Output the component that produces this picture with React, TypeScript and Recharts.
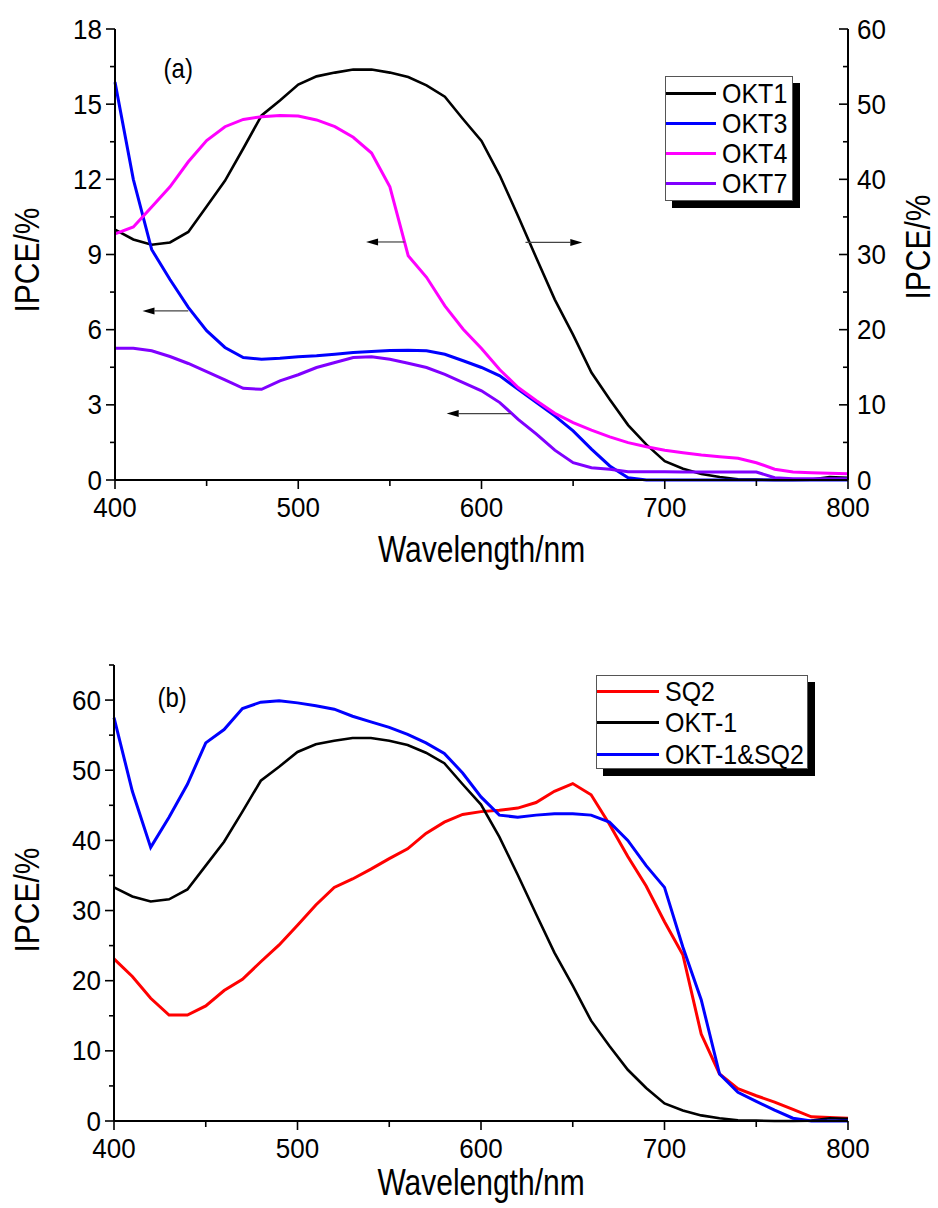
import React from 'react';
import { LineChart, Line, XAxis, YAxis, Legend, ReferenceLine, ReferenceDot } from 'recharts';

const FONT = '"Liberation Sans", Arial, Helvetica, sans-serif';

// wavelength grid (nm)
const WAVELENGTH = [
  400, 410, 420, 430, 440, 450, 460, 470, 480, 490,
  500, 510, 520, 530, 540, 550, 560, 570, 580, 590,
  600, 610, 620, 630, 640, 650, 660, 670, 680, 690,
  700, 710, 720, 730, 740, 750, 760, 770, 780, 790, 800,
];

// IPCE % — OKT1 is read on the right axis in (a), and is the OKT-1 curve in (b)
const OKT1 = [
  33.3, 32.0, 31.3, 31.6, 33.0, 36.4, 39.8, 44.1, 48.5, 50.5,
  52.6, 53.7, 54.2, 54.6, 54.6, 54.2, 53.6, 52.5, 51.0, 48.0,
  45.1, 40.5, 35.1, 29.5, 24.0, 19.3, 14.3, 10.7, 7.3, 4.7,
  2.5, 1.5, 0.8, 0.4, 0.1, 0.05, 0, 0, 0.05, 0.4, 0.3,
];
const OKT3 = [
  15.88, 12.0, 9.2, 8.0, 6.89, 5.96, 5.29, 4.89, 4.82, 4.86,
  4.92, 4.96, 5.02, 5.09, 5.13, 5.17, 5.18, 5.16, 5.02, 4.76,
  4.49, 4.16, 3.62, 3.09, 2.56, 1.96, 1.23, 0.56, 0.09, 0,
  0, 0, 0, 0, 0, 0, 0, 0, 0, 0, 0,
];
const OKT4 = [
  9.82, 10.1, 10.9, 11.7, 12.7, 13.55, 14.1, 14.39, 14.5, 14.55,
  14.53, 14.37, 14.1, 13.68, 13.05, 11.7, 8.95, 8.09, 6.95, 6.02,
  5.25, 4.4, 3.69, 3.16, 2.66, 2.29, 1.99, 1.72, 1.49, 1.33,
  1.19, 1.09, 1.0, 0.93, 0.87, 0.69, 0.43, 0.32, 0.29, 0.27, 0.25,
];
const OKT7 = [
  5.26, 5.26, 5.16, 4.93, 4.65, 4.33, 4.0, 3.66, 3.62, 3.96,
  4.2, 4.49, 4.69, 4.89, 4.92, 4.82, 4.66, 4.49, 4.22, 3.89,
  3.56, 3.09, 2.42, 1.83, 1.19, 0.69, 0.49, 0.43, 0.33, 0.33,
  0.33, 0.32, 0.32, 0.32, 0.32, 0.32, 0.09, 0.05, 0.05, 0.05, 0.05,
];
const SQ2 = [
  23.1, 20.6, 17.5, 15.1, 15.1, 16.4, 18.6, 20.2, 22.7, 25.1,
  27.9, 30.8, 33.3, 34.5, 35.9, 37.4, 38.8, 41.0, 42.6, 43.7,
  44.1, 44.3, 44.6, 45.4, 47.0, 48.1, 46.5, 42.3, 37.7, 33.5,
  28.4, 23.7, 12.4, 6.7, 4.6, 3.6, 2.7, 1.65, 0.6, 0.5, 0.4,
];
const OKT1_SQ2 = [
  57.5, 47.0, 39.0, 43.3, 48.0, 53.9, 55.8, 58.8, 59.7, 59.9,
  59.6, 59.2, 58.7, 57.7, 56.9, 56.1, 55.1, 53.9, 52.4, 49.6,
  46.2, 43.6, 43.3, 43.6, 43.8, 43.8, 43.6, 42.6, 40.0, 36.4,
  33.3, 24.8, 17.3, 6.7, 4.1, 2.8, 1.55, 0.4, 0, 0, 0,
];

const LEGEND_A = ['OKT1', 'OKT3', 'OKT4', 'OKT7'];
const LEGEND_B = ['SQ2', 'OKT-1', 'OKT-1&SQ2'];

const X_TICKS = [400, 450, 500, 550, 600, 650, 700, 750, 800];
const TOP_TICKS_A = [400, 450, 500, 550, 600, 650, 700, 750, 800];
const TOP_TICKS_B = [400, 440, 480, 520, 560, 600, 640, 680, 720, 760, 800];
const LEFT_TICKS_A = [0, 1.5, 3, 4.5, 6, 7.5, 9, 10.5, 12, 13.5, 15, 16.5, 18];
const RIGHT_TICKS_A = [0, 5, 10, 15, 20, 25, 30, 35, 40, 45, 50, 55, 60];
const LEFT_TICKS_B = [0, 5, 10, 15, 20, 25, 30, 35, 40, 45, 50, 55, 60, 65];
const RIGHT_TICKS_B = [0, 1, 2, 3, 4, 5, 6, 7, 8, 9, 10];

// arrows in (a): [tail wl, head wl, left-axis value]
const ARROWS_A = [
  [558, 537, 9.5],
  [440, 415, 6.75],
  [616, 581, 2.65],
  [624, 655, 9.48],
];

const rowsA = WAVELENGTH.map((wl, i) => ({ wl, okt1: OKT1[i], okt3: OKT3[i], okt4: OKT4[i], okt7: OKT7[i] }));
const rowsB = WAVELENGTH.map((wl, i) => ({ wl, sq2: SQ2[i], okt1: OKT1[i], mix: OKT1_SQ2[i] }));

function STxt({ x, y, k = 1, size = 26, anchor = 'middle', rotate = 0, children }: any) {
  const t = `translate(${x} ${y})${rotate ? ` rotate(${rotate})` : ''} scale(1 ${k})`;
  return (
    <text transform={t} textAnchor={anchor} fontSize={size} fontFamily={FONT} fill="#000">
      {children}
    </text>
  );
}

const isMajor = (v: number, step: number) => Math.abs(v / step - Math.round(v / step)) < 1e-6;

function makeTick(side: string, step: number, major: number, minor: number, inward = false, labels = true) {
  return (p: any) => {
    const x = Number(p.x);
    const y = Number(p.y);
    const v = Number(p.payload?.value);
    const big = isMajor(v, step);
    const len = (big ? major : minor) * (inward ? -1 : 1);
    let x2 = x;
    let y2 = y;
    if (side === 'left') x2 = x - len;
    else if (side === 'right') x2 = x + len;
    else if (side === 'bottom') y2 = y + len;
    else y2 = y - len;
    let label = null;
    if (labels && big) {
      if (side === 'left') label = <STxt x={x - 13} y={y + 9.5} anchor="end" k={1.05}>{v}</STxt>;
      if (side === 'right') label = <STxt x={x + 9} y={y + 9.5} anchor="start" k={1.05}>{v}</STxt>;
      if (side === 'bottom') label = <STxt x={x} y={y + 36.5} k={1.05}>{v}</STxt>;
    }
    return (
      <g>
        <line x1={x} y1={y} x2={x2} y2={y2} stroke="#000" strokeWidth={1.6} />
        {label}
      </g>
    );
  };
}

const xTitle = (off: number) => (p: any) => {
  const vb = p.viewBox ?? { x: 0, y: 0, width: 0, height: 0 };
  return <STxt x={vb.x + vb.width / 2} y={vb.y + off} size={30} k={1.2}>Wavelength/nm</STxt>;
};

const yTitle = (baseX: number, cyOff: number) => (p: any) => {
  const vb = p.viewBox ?? { x: 0, y: 0, width: 0, height: 0 };
  return <STxt x={baseX} y={vb.y + vb.height / 2 + cyOff} rotate={-90} size={30} k={1.15}>IPCE/%</STxt>;
};

const Arrow = (p: any) => {
  const { x1, y1, x2, y2 } = p;
  const dir = Math.sign(x2 - x1);
  const head = 12;
  return (
    <g>
      <line x1={x1} y1={y1} x2={x2 - dir * head} y2={y2} stroke="#444" strokeWidth={1.2} />
      <polygon points={`${x2},${y2} ${x2 - dir * head},${y2 - 3.5} ${x2 - dir * head},${y2 + 3.5}`} fill="#000" />
    </g>
  );
};

const panelTag = (text: string) => (p: any) => (
  <STxt x={p.cx} y={p.cy + 7} size={24} k={1.12}>{text}</STxt>
);

function LegendBox({ payload, order, width, height, lineW, rowH, padTop }: any) {
  const items = [...(payload ?? [])].sort((a: any, b: any) => order.indexOf(a.value) - order.indexOf(b.value));
  return (
    <div
      style={{
        boxSizing: 'border-box',
        width,
        height,
        border: '1px solid #555',
        background: '#fff',
        boxShadow: '7px 7px 0 0 #000',
        paddingTop: padTop,
        fontFamily: FONT,
      }}
    >
      {items.map((e: any) => (
        <div key={e.value} style={{ display: 'flex', alignItems: 'center', height: rowH }}>
          <div style={{ width: lineW, height: 3, background: e.color, flex: 'none' }} />
          <span
            style={{
              marginLeft: 6,
              fontSize: 25,
              lineHeight: 1,
              color: '#000',
              whiteSpace: 'nowrap',
              display: 'inline-block',
              transform: 'scaleY(1.12)',
            }}
          >
            {e.value}
          </span>
        </div>
      ))}
    </div>
  );
}

function PanelA() {
  return (
    <LineChart width={938} height={600} data={rowsA} margin={{ top: 29, right: 30, bottom: 50, left: 55 }}>
      <XAxis
        dataKey="wl"
        type="number"
        domain={[400, 800]}
        ticks={X_TICKS}
        interval={0}
        height={70}
        tickSize={0}
        tickMargin={0}
        tickLine={false}
        axisLine={{ stroke: '#000', strokeWidth: 2 }}
        tick={makeTick('bottom', 100, 9, 6)}
        label={{ content: xTitle(81.7) }}
      />
      <XAxis
        xAxisId="top"
        orientation="top"
        dataKey="wl"
        type="number"
        domain={[400, 800]}
        ticks={TOP_TICKS_A}
        interval={0}
        height={0}
        tickSize={0}
        tickMargin={0}
        tickLine={false}
        axisLine={{ stroke: '#000', strokeWidth: 2 }}
        tick={makeTick('top', 50, 3, 3, true, false)}
      />
      <YAxis
        yAxisId="l"
        domain={[0, 18]}
        ticks={LEFT_TICKS_A}
        interval={0}
        width={60}
        tickSize={0}
        tickMargin={0}
        tickLine={false}
        axisLine={{ stroke: '#000', strokeWidth: 2 }}
        tick={makeTick('left', 3, 9, 5)}
        label={{ content: yTitle(39.3, 5.5) }}
      />
      <YAxis
        yAxisId="r"
        orientation="right"
        domain={[0, 60]}
        ticks={RIGHT_TICKS_A}
        interval={0}
        width={60}
        tickSize={0}
        tickMargin={0}
        tickLine={false}
        axisLine={{ stroke: '#000', strokeWidth: 2 }}
        tick={makeTick('right', 10, 9, 5, true)}
        label={{ content: yTitle(930, -7.5) }}
      />
      <Line yAxisId="r" dataKey="okt1" name="OKT1" stroke="#000" strokeWidth={2.6} dot={false} type="linear" isAnimationActive={false} />
      <Line yAxisId="l" dataKey="okt3" name="OKT3" stroke="#0000ff" strokeWidth={3} dot={false} type="linear" isAnimationActive={false} />
      <Line yAxisId="l" dataKey="okt4" name="OKT4" stroke="#ff00ff" strokeWidth={3} dot={false} type="linear" isAnimationActive={false} />
      <Line yAxisId="l" dataKey="okt7" name="OKT7" stroke="#8000ff" strokeWidth={3} dot={false} type="linear" isAnimationActive={false} />
      {ARROWS_A.map(([from, to, v], i) => (
        <ReferenceLine
          key={i}
          yAxisId="l"
          segment={[{ x: from, y: v }, { x: to, y: v }]}
          shape={Arrow}
        />
      ))}
      <ReferenceDot yAxisId="l" x={434.5} y={16.33} r={0} shape={panelTag('(a)')} />
      <Legend
        layout="vertical"
        align="center"
        verticalAlign="middle"
        wrapperStyle={{ left: 665, top: 76, width: 140, height: 135 }}
        content={(p: any) => (
          <LegendBox payload={p.payload} order={LEGEND_A} width={128} height={125} lineW={50} rowH={30} padTop={1} />
        )}
      />
    </LineChart>
  );
}

function PanelB() {
  return (
    <LineChart width={938} height={588} data={rowsB} margin={{ top: 45, right: 90, bottom: 17, left: 54 }}>
      <XAxis
        dataKey="wl"
        type="number"
        domain={[400, 800]}
        ticks={X_TICKS}
        interval={0}
        height={70}
        tickSize={0}
        tickMargin={0}
        tickLine={false}
        axisLine={{ stroke: '#000', strokeWidth: 2 }}
        tick={makeTick('bottom', 100, 9, 6)}
        label={{ content: xTitle(74) }}
      />
      <XAxis
        xAxisId="top"
        orientation="top"
        dataKey="wl"
        type="number"
        domain={[400, 800]}
        ticks={TOP_TICKS_B}
        interval={0}
        height={0}
        tickSize={0}
        tickMargin={0}
        tickLine={false}
        axisLine={{ stroke: '#000', strokeWidth: 2 }}
        tick={makeTick('top', 40, 3, 3, true, false)}
      />
      <YAxis
        yAxisId="l"
        domain={[0, 65]}
        ticks={LEFT_TICKS_B}
        interval={0}
        width={60}
        tickSize={0}
        tickMargin={0}
        tickLine={false}
        axisLine={{ stroke: '#000', strokeWidth: 2 }}
        tick={makeTick('left', 10, 9, 5)}
        label={{ content: yTitle(39.3, 7) }}
      />
      <YAxis
        yAxisId="r"
        orientation="right"
        domain={[0, 10]}
        ticks={RIGHT_TICKS_B}
        interval={0}
        width={0}
        tickSize={0}
        tickMargin={0}
        tickLine={false}
        axisLine={{ stroke: '#000', strokeWidth: 2 }}
        tick={makeTick('right', 1, 3, 3, true, false)}
      />
      <Line yAxisId="l" dataKey="sq2" name="SQ2" stroke="#ff0000" strokeWidth={3} dot={false} type="linear" isAnimationActive={false} />
      <Line yAxisId="l" dataKey="okt1" name="OKT-1" stroke="#000" strokeWidth={2.6} dot={false} type="linear" isAnimationActive={false} />
      <Line yAxisId="l" dataKey="mix" name="OKT-1&SQ2" stroke="#0000ff" strokeWidth={3} dot={false} type="linear" isAnimationActive={false} />
      <ReferenceDot yAxisId="l" x={431.7} y={60} r={0} shape={panelTag('(b)')} />
      <Legend
        layout="vertical"
        align="center"
        verticalAlign="middle"
        wrapperStyle={{ left: 596, top: 55, width: 225, height: 105 }}
        content={(p: any) => (
          <LegendBox payload={p.payload} order={LEGEND_B} width={212} height={94} lineW={62} rowH={31.3} padTop={0} />
        )}
      />
    </LineChart>
  );
}

export default function App() {
  return (
    <div style={{ position: 'absolute', left: 0, top: 0, width: 938, height: 1208, background: '#fff', fontFamily: FONT }}>
      <div style={{ position: 'absolute', left: 0, top: 0 }}>
        <PanelA />
      </div>
      <div style={{ position: 'absolute', left: 0, top: 620 }}>
        <PanelB />
      </div>
    </div>
  );
}
